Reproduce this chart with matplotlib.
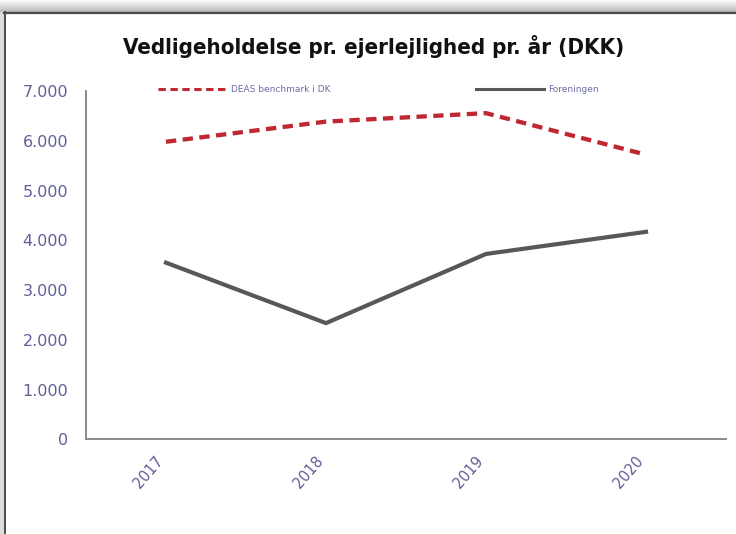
import numpy as np
import matplotlib
matplotlib.use("Agg")
import matplotlib.pyplot as plt
from matplotlib.lines import Line2D

years = ["2017", "2018", "2019", "2020"]
deas = [5980, 6385, 6555, 5720]
foreningen = [3550, 2335, 3725, 4170]
yticks = [0, 1000, 2000, 3000, 4000, 5000, 6000, 7000]
ytick_labels = ["0", "1.000", "2.000", "3.000", "4.000", "5.000", "6.000", "7.000"]

W, H = 736, 534
fig = plt.figure(figsize=(W / 100, H / 100), dpi=100)
fig.patch.set_facecolor("white")

# frame decoration (shadowed top border, left border)
band = fig.add_axes([0, 1 - 12 / H, 1, 12 / H])
grad = np.linspace(1.0, 0.72, 50).reshape(-1, 1)
band.imshow(np.dstack([grad, grad, grad]), aspect="auto", extent=[0, 1, 0, 1])
band.axis("off")
fig.add_artist(Line2D([4 / W, 1], [1 - 12.5 / H, 1 - 12.5 / H], color="#4a4a4a", lw=1.6))
fig.add_artist(Line2D([4.5 / W, 4.5 / W], [0, 1 - 12 / H], color="#4a4a4a", lw=1.4))
fig.add_artist(plt.Rectangle((0, 0), 3.5 / W, 1 - 12 / H, color="#dcdcdc", lw=0))

ax = fig.add_axes([86 / W, (H - 439.3) / H, 640 / W, (439.3 - 91) / H])
x = np.arange(len(years))
l1, = ax.plot(x, deas, color="#bf2830", lw=3.1, dashes=(2.4, 1.5),
              solid_capstyle="butt", label="DEAS benchmark i DK")
l2, = ax.plot(x, foreningen, color="#58585b", lw=3.0, label="Foreningen")
ax.set_xlim(-0.5, 3.5)
ax.set_ylim(0, 7000)
ax.set_yticks(yticks)
ax.set_yticklabels(ytick_labels)
ax.set_xticks(x)
ax.set_xticklabels(years, rotation=49, ha="right", va="top",
                   fontstretch="condensed")
tc = "#5f5f9a"
ax.tick_params(axis="y", length=0, pad=12.8, labelsize=11.5, labelcolor=tc)
ax.tick_params(axis="x", length=0, pad=10, labelsize=11.5, labelcolor=tc)
for s in ["top", "right"]:
    ax.spines[s].set_visible(False)
for s in ["left", "bottom"]:
    ax.spines[s].set_color("#8a8a8a")
    ax.spines[s].set_linewidth(1.4)

fig.text(374 / W, 1 - 47 / H, "Vedligeholdelse pr. ejerlejlighed pr. år (DKK)",
         ha="center", va="center", fontsize=16, fontweight="bold",
         family=["DejaVu Sans"], fontstretch="condensed", color="#111111")

leg = fig.legend(handles=[l1, l2], loc="center left",
                 bbox_to_anchor=(158 / W, 1 - 90 / H), ncol=2, frameon=False,
                 fontsize=6.5, handlelength=7.6, handletextpad=0.45,
                 columnspacing=16.1, borderpad=0, borderaxespad=0)
for t in leg.get_texts():
    t.set_color("#6b6ba5")
for h in leg.get_lines():
    h.set_linewidth(2.2)

fig.savefig("out.png", dpi=100, facecolor="white")
